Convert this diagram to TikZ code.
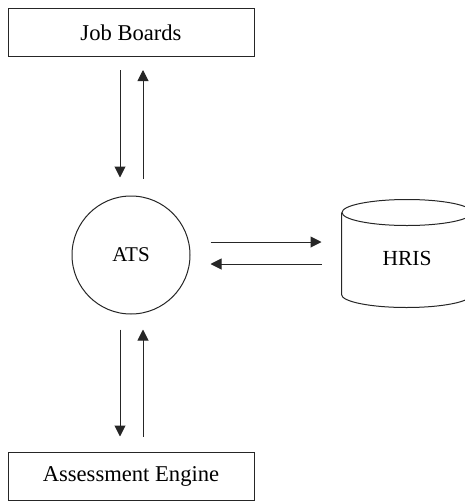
\documentclass[tikz,border=0pt]{standalone}
\usepackage{fontspec}
\setmainfont{Liberation Serif}
\usetikzlibrary{arrows.meta}
\begin{document}
\begin{tikzpicture}[x=1pt,y=1pt,
  line width=1pt, draw=black!85,
  box/.style={draw, rectangle, inner sep=0pt, minimum width=246pt, minimum height=48pt,
    font=\fontsize{22.6}{26}\selectfont},
  hub/.style={draw, circle, inner sep=0pt, minimum size=118pt,
    font=\fontsize{21}{25}\selectfont},
  store/.style={inner sep=0pt, minimum width=130pt, minimum height=81pt},
  flow/.style={-{Triangle[length=11pt,width=11pt]}}]
  \useasboundingbox (0,0) rectangle (464,-501);

  % systems
  \node[box] (JB) at (131,-32.5) {Job Boards};
  \node[hub] (ATS) at (131,-255) {ATS};
  \node[store] (HRIS) at (407,-253.5) {};
  \node[font=\fontsize{21.5}{25}\selectfont] (HRISlabel) at (407,-258) {HRIS};
  \node[box] (AE) at (131,-476) {Assessment Engine};

  % database cylinder around the HRIS node
  \draw (HRIS.north west) -- (HRIS.south west)
        arc[start angle=180, end angle=360, x radius=65pt, y radius=13pt]
        -- (HRIS.north east);
  \draw (HRIS.north) ellipse[x radius=65pt, y radius=13pt];

  % Job Boards <-> ATS
  \draw[flow, shorten <=13pt, shorten >=18pt]
    ([xshift=-11pt]JB.south) -- ([xshift=-11pt]JB.south |- ATS.north);
  \draw[flow, shorten <=17pt, shorten >=13pt]
    ([xshift=12pt]JB.south |- ATS.north) -- ([xshift=12pt]JB.south);

  % ATS <-> HRIS
  \draw[flow, shorten <=20pt, shorten >=20pt]
    ([yshift=13pt]ATS.east) -- ([yshift=13pt]ATS.east -| HRIS.west);
  \draw[flow, shorten <=20pt, shorten >=20pt]
    ([yshift=-9pt]ATS.east -| HRIS.west) -- ([yshift=-9pt]ATS.east);

  % ATS <-> Assessment Engine
  \draw[flow, shorten <=15pt, shorten >=15pt]
    ([xshift=-11pt]ATS.south) -- ([xshift=-11pt]ATS.south |- AE.north);
  \draw[flow, shorten <=15pt, shorten >=15pt]
    ([xshift=12pt]ATS.south |- AE.north) -- ([xshift=12pt]ATS.south);
\end{tikzpicture}
\end{document}
